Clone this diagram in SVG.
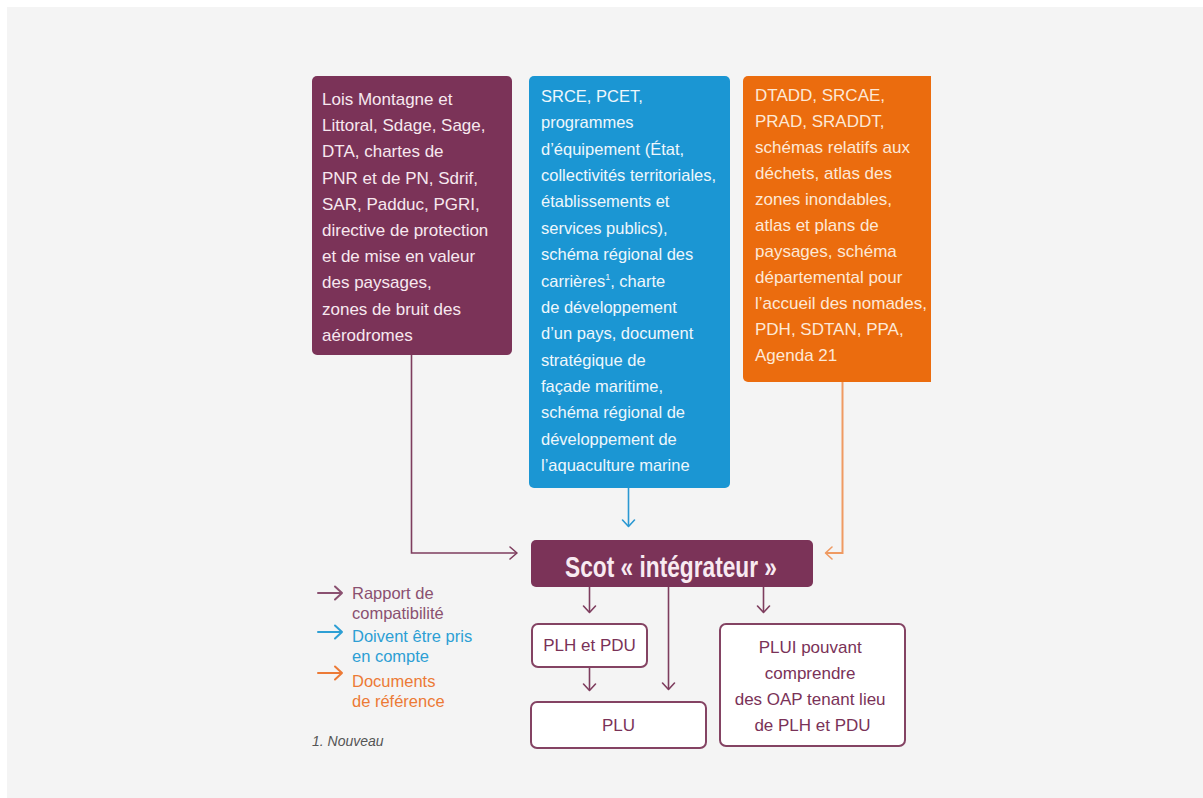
<svg xmlns="http://www.w3.org/2000/svg" width="1203" height="798" viewBox="0 0 1203 798">
<defs>
<style>
.t{font-family:"Liberation Sans",Arial,sans-serif;}
.pt{fill:#f7e8ef;font-size:17px;}
.bt{fill:#eef7fc;font-size:16.5px;}
.ot{fill:#fde8d6;font-size:17px;}
.sub{fill:#7a3258;font-size:17px;text-anchor:middle;}
.sb{fill:#ffffff;stroke:#844363;stroke-width:2;}
.cp{fill:none;stroke:#7e3d5e;stroke-width:1.6;}
.cb{fill:none;stroke:#2a98d2;stroke-width:1.6;}
.co{fill:none;stroke:#ef9a62;stroke-width:2;}
.ah{fill:none;stroke-width:1.6;stroke-linecap:round;stroke-linejoin:round;}
.lg{fill:none;stroke-width:2;stroke-linecap:round;stroke-linejoin:round;}
</style>
</defs>
<rect x="0" y="0" width="1203" height="798" fill="#ffffff"/>
<rect x="7" y="7" width="1196" height="791" fill="#f4f4f4"/>

<g id="connectors">
<path class="cp" d="M411.5,355 V553 H516"/>
<path class="ah" stroke="#7e3d5e" d="M510,547 L517,553 L510,559"/>
<path class="cb" d="M628.5,488 V526"/>
<path class="ah" stroke="#2a98d2" d="M622.5,520 L628.5,526.5 L634.5,520"/>
<path class="co" d="M842.5,382 V553 H826"/>
<path class="ah" stroke="#ef9a62" stroke-width="2" d="M832,547 L825.5,553 L832,559"/>
<path class="cp" d="M589.5,587 V612"/>
<path class="ah" stroke="#7e3d5e" d="M583.5,606 L589.5,612.5 L595.5,606"/>
<path class="cp" d="M668.5,587 V689"/>
<path class="ah" stroke="#7e3d5e" d="M662.5,683 L668.5,689.5 L674.5,683"/>
<path class="cp" d="M763.5,587 V612"/>
<path class="ah" stroke="#7e3d5e" d="M757.5,606 L763.5,612.5 L769.5,606"/>
<path class="cp" d="M589.5,667 V690"/>
<path class="ah" stroke="#7e3d5e" d="M583.5,684 L589.5,690.5 L595.5,684"/>
</g>

<g id="node-lois">
<rect x="312" y="76" width="200" height="279" rx="5" fill="#7b3358"/>
<text class="t pt" x="322">
<tspan x="322" y="105">Lois Montagne et</tspan>
<tspan x="322" y="131.2">Littoral, Sdage, Sage,</tspan>
<tspan x="322" y="157.4">DTA, chartes de</tspan>
<tspan x="322" y="183.6">PNR et de PN, Sdrif,</tspan>
<tspan x="322" y="209.8">SAR, Padduc, PGRI,</tspan>
<tspan x="322" y="236">directive de protection</tspan>
<tspan x="322" y="262.2">et de mise en valeur</tspan>
<tspan x="322" y="288.4">des paysages,</tspan>
<tspan x="322" y="314.6">zones de bruit des</tspan>
<tspan x="322" y="340.8">aérodromes</tspan>
</text>
</g>

<g id="node-srce">
<rect x="529" y="76" width="201" height="412" rx="5" fill="#1b96d3"/>
<text class="t bt" x="541">
<tspan x="541" y="102">SRCE, PCET,</tspan>
<tspan x="541" y="128.4">programmes</tspan>
<tspan x="541" y="154.7">d’équipement (État,</tspan>
<tspan x="541" y="181.1">collectivités territoriales,</tspan>
<tspan x="541" y="207.4">établissements et</tspan>
<tspan x="541" y="233.8">services publics),</tspan>
<tspan x="541" y="260.2">schéma régional des</tspan>
<tspan x="541" y="286.5">carrières<tspan font-size="9" dy="-7">1</tspan><tspan dy="7">, charte</tspan></tspan>
<tspan x="541" y="312.9">de développement</tspan>
<tspan x="541" y="339.2">d’un pays, document</tspan>
<tspan x="541" y="365.6">stratégique de</tspan>
<tspan x="541" y="392">façade maritime,</tspan>
<tspan x="541" y="418.3">schéma régional de</tspan>
<tspan x="541" y="444.7">développement de</tspan>
<tspan x="541" y="471">l’aquaculture marine</tspan>
</text>
</g>

<g id="node-dtadd">
<path d="M748,76 H931 V382 H748 A5,5 0 0 1 743,377 V81 A5,5 0 0 1 748,76 Z" fill="#eb6c0e"/>
<text class="t ot" x="755">
<tspan x="755" y="101">DTADD, SRCAE,</tspan>
<tspan x="755" y="127">PRAD, SRADDT,</tspan>
<tspan x="755" y="153">schémas relatifs aux</tspan>
<tspan x="755" y="179">déchets, atlas des</tspan>
<tspan x="755" y="205">zones inondables,</tspan>
<tspan x="755" y="231">atlas et plans de</tspan>
<tspan x="755" y="257">paysages, schéma</tspan>
<tspan x="755" y="283">départemental pour</tspan>
<tspan x="755" y="309">l’accueil des nomades,</tspan>
<tspan x="755" y="335">PDH, SDTAN, PPA,</tspan>
<tspan x="755" y="361">Agenda 21</tspan>
</text>
</g>

<g id="node-scot">
<rect x="531" y="540" width="282" height="47" rx="5" fill="#7b3358"/>
<text class="t" x="671" y="577" font-size="30" font-weight="bold" fill="#f8eaf1" text-anchor="middle" textLength="212" lengthAdjust="spacingAndGlyphs">Scot « intégrateur »</text>
</g>

<g id="node-plh">
<rect class="sb" x="532" y="624" width="115" height="43" rx="6"/>
<text class="t sub" x="589.5" y="651">PLH et PDU</text>
</g>

<g id="node-plu">
<rect class="sb" x="531" y="702" width="175" height="46" rx="6"/>
<text class="t sub" x="618.5" y="731">PLU</text>
</g>

<g id="node-plui">
<rect class="sb" x="720" y="624" width="185" height="122" rx="6"/>
<text class="t sub" x="812.5">
<tspan x="812.5" y="653">PLUI pouvant</tspan>
<tspan x="812.5" y="679">comprendre</tspan>
<tspan x="812.5" y="705">des OAP tenant lieu</tspan>
<tspan x="812.5" y="731">de PLH et PDU</tspan>
</text>
</g>

<g id="legend">
<path class="lg" stroke="#8a5070" d="M318,593 H342 M335,586.5 L342,593 L335,599.5"/>
<text class="t" x="352" y="599" font-size="16.5" fill="#8a5070">Rapport de</text>
<text class="t" x="352" y="619" font-size="16.5" fill="#8a5070">compatibilité</text>
<path class="lg" stroke="#2d9fd4" d="M318,632 H342 M335,625.5 L342,632 L335,638.5"/>
<text class="t" x="352" y="642" font-size="16.5" fill="#2d9fd4">Doivent être pris</text>
<text class="t" x="352" y="662" font-size="16.5" fill="#2d9fd4">en compte</text>
<path class="lg" stroke="#ec7a36" d="M318,673 H342 M335,666.5 L342,673 L335,679.5"/>
<text class="t" x="352" y="687" font-size="16.5" fill="#ec7a36">Documents</text>
<text class="t" x="352" y="707" font-size="16.5" fill="#ec7a36">de référence</text>
<text class="t" x="312" y="746" font-size="14" font-style="italic" fill="#555555">1. Nouveau</text>
</g>
</svg>
